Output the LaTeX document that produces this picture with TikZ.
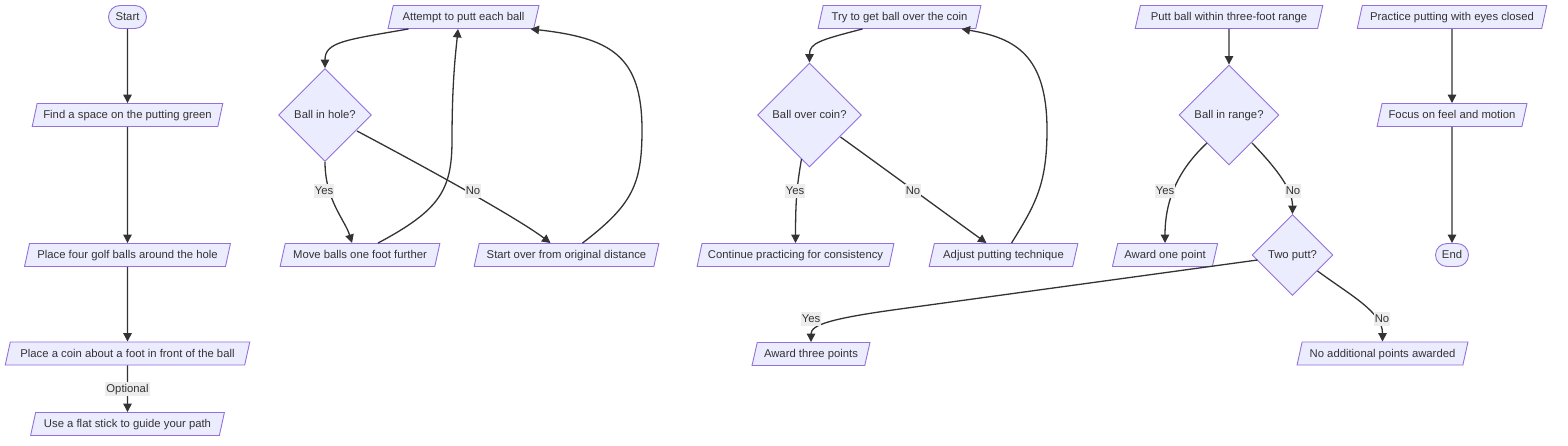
\documentclass[tikz,border=0pt]{standalone}
\usepackage{fontspec}
\setmainfont{Liberation Sans}
\usetikzlibrary{shapes.geometric,shapes.misc,arrows.meta,calc}
\definecolor{nfill}{HTML}{ECECFF}
\definecolor{nstroke}{HTML}{9370DB}
\definecolor{ln}{HTML}{333333}
\definecolor{lblbg}{HTML}{EDEDED}
\tikzset{
  base/.style={draw=nstroke, fill=nfill, line width=0.9pt, text=ln, font=\fontsize{11.3}{13}\selectfont, inner sep=1pt, text height=9.5pt, text depth=2pt},
  para/.style={base, trapezium, trapezium left angle=71, trapezium right angle=109, trapezium stretches=true, minimum height=23, minimum width=#1},
  dia/.style={base, diamond, aspect=1, minimum width=#1, minimum height=#1},
  term/.style={base, rounded rectangle, minimum height=23, minimum width=#1},
  edge/.style={draw=ln, line width=1.3pt, -{Triangle[length=8.5pt,width=8.5pt]}},
  lbl/.style={fill=lblbg, text=ln, font=\fontsize{11.3}{13}\selectfont, inner sep=1pt, text height=9pt, text depth=2.5pt}
}
\begin{document}
\begin{tikzpicture}[x=1pt,y=-1pt]
\fill[white] (0,0) rectangle (1568,446);
\useasboundingbox (0,0) rectangle (1568,446);

% column 1
\node[term=40] (start) at (127.5,17) {Start};
\node[para=191] (find) at (127.5,115) {Find a space on the putting green};
\node[para=206] (four) at (127.5,255) {Place four golf balls around the hole};
\node[para=245] (coin) at (127.5,353.5) {Place a coin about a foot in front of the ball};
\node[para=194] (stick) at (127.5,424) {Use a flat stick to guide your path};

% column 2
\node[para=151] (att) at (463.5,17) {Attempt to putt each ball};
\node[dia=93] (bih) at (325,115) {Ball in hole?};
\node[para=160] (move) at (360,255) {Move balls one foot further};
\node[para=185] (so) at (566.5,255) {Start over from original distance};

% column 3
\node[para=163] (try) at (899.5,17) {Try to get ball over the coin};
\node[dia=104] (boc) at (809.5,115) {Ball over coin?};
\node[para=197] (cont) at (795.5,255) {Continue practicing for consistency};
\node[para=149] (adj) at (1003.5,255) {Adjust putting technique};
\node[para=118] (a3) at (811,354) {Award three points};

% column 4
\node[para=188] (putt) at (1229,17) {Putt ball within three-foot range};
\node[dia=100] (bir) at (1229,115) {Ball in range?};
\node[para=106] (a1) at (1165,255) {Award one point};
\node[dia=81] (two) at (1292.5,255) {Two putt?};
\node[para=171] (noadd) at (1382.5,353.5) {No additional points awarded};

% column 5
\node[para=190] (prac) at (1452,17) {Practice putting with eyes closed};
\node[para=150] (focus) at (1452,115) {Focus on feel and motion};
\node[term=35] (end) at (1452,255) {End};

% edges column 1
\draw[edge] (start) -- (find);
\draw[edge] (find) -- (four);
\draw[edge] (four) -- (coin);
\draw[edge] (coin) -- (stick);
\node[lbl] (lopt) at (127.5,389) {Optional};

% edges column 2
\draw[edge] ([xshift=-55]att.south) .. controls (345,40) and (325,42) .. (bih.north);
\draw[edge] (bih.south) .. controls (325,200) and (345,220) .. ([xshift=-8]move.north);
\draw[edge] ([shift={(32,16)}]bih.center) .. controls (440,175) and (520,220) .. ([xshift=-16]so.north);
\draw[edge] ([xshift=18]move.north) .. controls (440,210) and (452,190) .. (452,140) .. controls (452,80) and (456,50) .. ([xshift=-5.5]att.south);
\draw[edge] ([xshift=16]so.north) .. controls (632,205) and (642,185) .. (642,130) .. controls (642,55) and (610,38) .. ([xshift=67]att.south);
\node[lbl] (ly1) at (324,191) {Yes};
\node[lbl] (ln1) at (473,191) {No};

% edges column 3
\draw[edge] ([xshift=-37]try.south) .. controls (820,40) and (809.5,43) .. (boc.north);
\draw[edge] ([shift={(-8,44)}]boc.center) .. controls (797,185) and (795.5,200) .. (cont.north);
\draw[edge] ([shift={(31,22)}]boc.center) .. controls (889,172) and (938,208) .. ([xshift=-17]adj.north);
\draw[edge] ([xshift=8]adj.north) .. controls (1035,205) and (1047,185) .. (1047,130) .. controls (1047,55) and (1015,38) .. ([xshift=62]try.south);
\node[lbl] (ly2) at (795,191) {Yes};
\node[lbl] (ln2) at (913,191) {No};

% edges column 4
\draw[edge] (putt) -- (bir);
\draw[edge] ([shift={(-22,28)}]bir.center) .. controls (1178,170) and (1165,200) .. (a1.north);
\draw[edge] ([shift={(23,28)}]bir.center) .. controls (1278,170) and (1292.5,190) .. (two.north);
\draw[edge] ([shift={(-35,5)}]two.center) -- (900,309) .. controls (830,318.5) and (811,325) .. (a3.north);
\draw[edge] ([shift={(25,16)}]two.center) .. controls (1350,295) and (1382.5,312) .. (noadd.north);
\node[lbl] (ly3) at (1165,191) {Yes};
\node[lbl] (ln3) at (1293,191) {No};
\node[lbl] (ly4) at (811,319) {Yes};
\node[lbl] (ln4) at (1382,319) {No};

% edges column 5
\draw[edge] (prac) -- (focus);
\draw[edge] (focus) -- (end);
\end{tikzpicture}
\end{document}
